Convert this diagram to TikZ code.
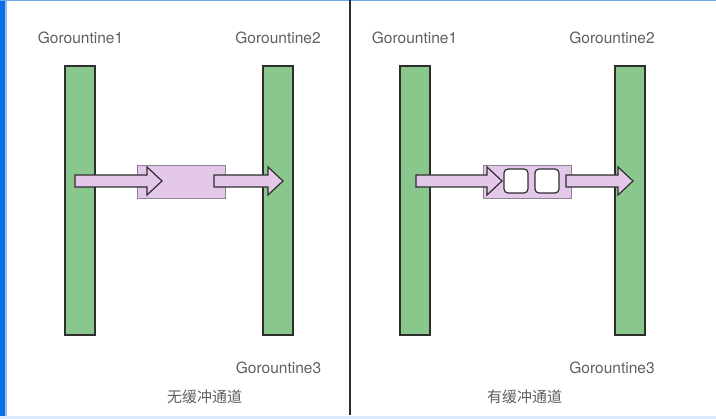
\documentclass[tikz,border=0pt]{standalone}
\usepackage{fontspec}
\setmainfont{TeX Gyre Heros}
\newfontfamily\cjk{Noto Sans CJK SC}
\usetikzlibrary{calc, positioning}
\definecolor{barfill}{HTML}{8AC78C}
\definecolor{bardraw}{HTML}{2E2E2E}
\definecolor{chanfill}{HTML}{E4C8EA}
\definecolor{boxdraw}{HTML}{8F8290}
\definecolor{labelgray}{HTML}{606060}
\definecolor{frameblue}{HTML}{0A6EE8}
\definecolor{lightblue}{HTML}{DCEBFB}

\newcommand{\thickarrow}[2]{%
	\draw[fatarrow] let \p1=(#1), \p2=(#2) in
	(\x1,\y1+6pt) -- (\x2-15pt,\y1+6pt) -- (\x2-15pt,\y1+14pt) -- (\x2,\y1)
	-- (\x2-15pt,\y1-14pt) -- (\x2-15pt,\y1-6pt) -- (\x1,\y1-6pt) -- cycle;}

\begin{document}
\begin{tikzpicture}[x=1pt, y=-1pt]
			\tikzstyle{gorbar}=[
			draw=bardraw,
			fill=barfill,
			line width=1.2pt,
			rectangle,
			minimum width=30pt,
			minimum height=269pt,
			inner sep=0pt
			]
			\tikzstyle{chanbox}=[
			draw=boxdraw,
			fill=chanfill,
			line width=0.8pt,
			minimum width=88pt,
			minimum height=33pt,
			inner sep=0pt
			]
			\tikzstyle{slot}=[
			draw=bardraw,
			fill=white,
			rounded corners=4pt,
			line width=1.2pt,
			minimum size=24pt,
			inner sep=0pt
			]
			\tikzstyle{gname}=[text=labelgray, font=\fontsize{15.5}{18}\selectfont]
			\tikzstyle{caption}=[text=labelgray, font=\cjk\fontsize{15}{18}\selectfont]
			\tikzstyle{fatarrow}=[draw=bardraw, fill=chanfill, line width=1.2pt, line join=miter]
			\useasboundingbox (0,0) rectangle (716,419);
			\fill[white] (0,0) rectangle (716,419);
			\fill[frameblue] (0,0) rectangle (5,419);
			\fill[frameblue!45] (5,0) rectangle (6.5,419);
			\fill[frameblue!60] (0,0) rectangle (716,1.2);
			\fill[lightblue] (0,416.5) rectangle (716,419);
			\draw[bardraw, line width=1.2pt] (350,0) -- (350,415);
			%
			\node[gorbar] (G1L) at (80,200.5) {};
			\node[gorbar] (G2L) at (278,200.5) {};
			\node[gname] (N1L) at (80.5,38) {Gorountine1};
			\node[gname] (N2L) at (278,38) {Gorountine2};
			\node[gname] (N3L) at (278.5,368) {Gorountine3};
			\node[caption] (CapL) at (204.5,397) {无缓冲通道};
			\node[chanbox] (ChL) at (181,181.5) {};
			\coordinate (ChLin) at (75,181);
			\coordinate (ChLtip) at (162,181);
			\coordinate (ChLout) at (214,181);
			\coordinate (G2Ltip) at (283,181);
			\thickarrow{ChLin}{ChLtip}
			\thickarrow{ChLout}{G2Ltip}
			%
			\node[gorbar] (G1R) at (415,200.5) {};
			\node[gorbar] (G2R) at (630,200.5) {};
			\node[gname] (N1R) at (414.5,38) {Gorountine1};
			\node[gname] (N2R) at (612,38) {Gorountine2};
			\node[gname] (N3R) at (612,368) {Gorountine3};
			\node[caption] (CapR) at (524.5,397) {有缓冲通道};
			\node[chanbox] (ChR) at (527.5,182) {};
			\coordinate (ChRin) at (416,181);
			\coordinate (ChRtip) at (502,181);
			\coordinate (ChRout) at (566,181);
			\coordinate (G2Rtip) at (633,181);
			\thickarrow{ChRin}{ChRtip}
			\thickarrow{ChRout}{G2Rtip}
			\node[slot] (S1) at (516,181) {};
			\node[slot] (S2) at (547,181) {};
		\end{tikzpicture}
\end{document}
